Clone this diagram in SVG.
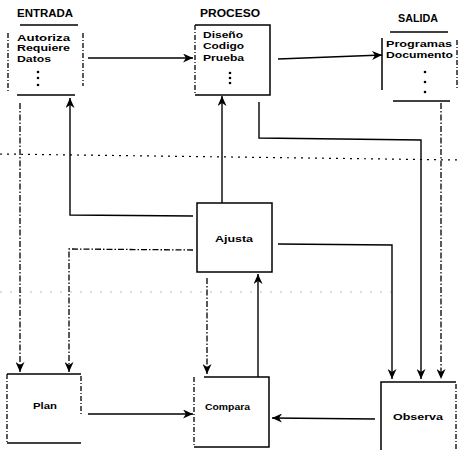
<svg xmlns="http://www.w3.org/2000/svg" width="460" height="450" viewBox="0 0 460 450">
<defs>
<marker id="ah" markerUnits="userSpaceOnUse" markerWidth="11" markerHeight="9" refX="10" refY="4.5" orient="auto">
<path d="M0,0 L10,4.5 L0,9 L3,4.5 z" fill="#000"/>
</marker>
<style>
.t{font-family:"Liberation Sans",Arial,sans-serif;font-weight:bold;fill:#000}
.h{font-size:10px}
.s{font-size:9px}
.b{fill:none;stroke:#000;stroke-width:1.5}
.d{fill:none;stroke:#000;stroke-width:1.3;stroke-dasharray:5,2,1,2}
.c{fill:none;stroke:#000;stroke-width:1.4;marker-end:url(#ah)}
.cd{fill:none;stroke:#000;stroke-width:1.3;stroke-dasharray:6,2,1.5,2;marker-end:url(#ah)}
.g{fill:none;stroke:#000;stroke-width:1.2;stroke-dasharray:2,5}
</style>
</defs>
<rect width="460" height="450" fill="#fff"/>

<!-- separator dotted lines -->
<path class="g" d="M0,154 L460,160"/>
<path d="M0,292 L400,292" fill="none" stroke="#bbb" stroke-width="1" stroke-dasharray="2,8"/>

<g id="entrada">
<text class="t h" x="17" y="17" textLength="56" lengthAdjust="spacingAndGlyphs">ENTRADA</text>
<path class="b" d="M20,25 L78,25"/>
<path class="d" d="M8,33 L8,93"/>
<path class="d" d="M83,33 L83,86"/>
<path class="b" d="M17,95 L75,95"/>
<text class="t s" x="17" y="40.5" textLength="53" lengthAdjust="spacingAndGlyphs">Autoriza</text>
<text class="t s" x="17" y="50.5" textLength="53" lengthAdjust="spacingAndGlyphs">Requiere</text>
<text class="t s" x="17" y="62" textLength="34" lengthAdjust="spacingAndGlyphs">Datos</text>
<circle cx="38" cy="72" r="1.3"/><circle cx="38" cy="78" r="1.3"/><circle cx="38" cy="85" r="1.3"/>
</g>

<g id="proceso">
<text class="t h" x="200" y="17" textLength="60" lengthAdjust="spacingAndGlyphs">PROCESO</text>
<path class="b" d="M195,25 L270,25 L270,95 L195,95"/>
<path class="d" d="M195,25 L195,95"/>
<text class="t s" x="203" y="38" textLength="40" lengthAdjust="spacingAndGlyphs">Diseño</text>
<text class="t s" x="203" y="49" textLength="41" lengthAdjust="spacingAndGlyphs">Codigo</text>
<text class="t s" x="203" y="61" textLength="41" lengthAdjust="spacingAndGlyphs">Prueba</text>
<circle cx="230" cy="73" r="1.3"/><circle cx="230" cy="78" r="1.3"/><circle cx="230" cy="83" r="1.3"/>
</g>

<g id="salida">
<text class="t h" x="398" y="22" textLength="40" lengthAdjust="spacingAndGlyphs">SALIDA</text>
<path class="b" d="M390,32 L448,32"/>
<path class="b" d="M382,38 L382,90"/>
<path class="d" d="M457,40 L457,90"/>
<path class="b" d="M393,101 L450,101"/>
<text class="t s" x="386" y="47" textLength="66" lengthAdjust="spacingAndGlyphs">Programas</text>
<text class="t s" x="386" y="57.5" textLength="67" lengthAdjust="spacingAndGlyphs">Documento</text>
<circle cx="425" cy="72" r="1.3"/><circle cx="425" cy="82" r="1.3"/><circle cx="425" cy="92" r="1.3"/>
</g>

<g id="ajusta">
<rect class="b" x="197" y="203" width="75" height="69"/>
<text class="t s" x="215" y="242" textLength="38" lengthAdjust="spacingAndGlyphs">Ajusta</text>
</g>

<g id="plan">
<path class="b" d="M7,374 L81,374"/>
<path class="d" d="M7,374 L7,443"/>
<path class="d" d="M81,376 L81,416"/>
<path class="b" d="M7,443 L81,443"/>
<text class="t s" x="33" y="409" textLength="24" lengthAdjust="spacingAndGlyphs">Plan</text>
</g>

<g id="compara">
<path class="b" d="M204,377 L269,377 L269,447 L194,447"/>
<path class="d" d="M194,377 L194,447"/>
<text class="t s" x="205" y="410" textLength="45" lengthAdjust="spacingAndGlyphs">Compara</text>
</g>

<g id="observa">
<path class="b" d="M381,450 L381,382 L456,382"/>
<path class="d" d="M456,384 L456,450"/>
<text class="t s" x="393" y="420" textLength="50" lengthAdjust="spacingAndGlyphs">Observa</text>
</g>

<g id="connectors">
<path class="c" d="M88,58 L193,58"/>
<path class="c" d="M278,59 L382,55"/>
<path class="c" d="M259,102 L259,138 L421,140 L421,379"/>
<path class="cd" d="M441,103 L441,379"/>
<path class="c" d="M278,244 L392,245 L392,379"/>
<path class="c" d="M222,203 L222,96"/>
<path class="c" d="M193,216 L70,215 L70,98"/>
<path class="cd" d="M193,250 L69,249 L69,372"/>
<path class="cd" d="M20,103 L20,372"/>
<path class="cd" d="M207,278 L207,374"/>
<path class="c" d="M258,377 L258,274"/>
<path class="c" d="M88,414 L193,414"/>
<path class="c" d="M375,419 L272,418"/>
</g>
</svg>
